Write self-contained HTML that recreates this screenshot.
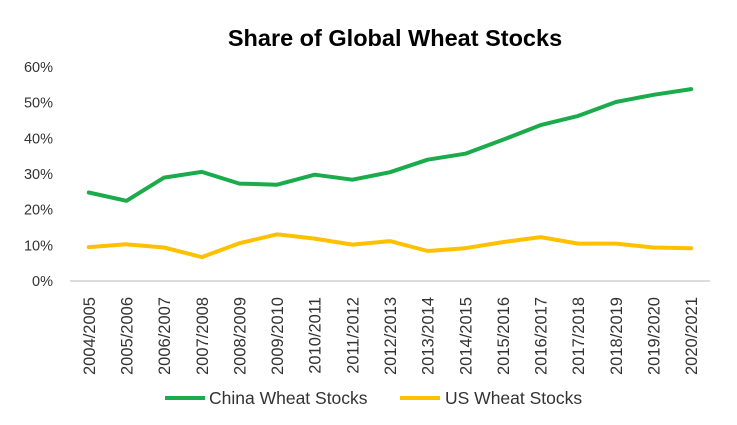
<!DOCTYPE html>
<html><head><meta charset="utf-8"><style>
body{margin:0;background:#fff;}
svg{display:block;font-family:"Liberation Sans",sans-serif;}
</style></head><body>
<svg id="chart" width="737" height="425">
<text x="395" y="46" text-anchor="middle" font-size="23.5" font-weight="bold" fill="#000">Share of Global Wheat Stocks</text>
<g id="yaxis"></g><g id="xaxis"></g><g id="series"></g>
<g>
<line x1="165" y1="398" x2="205" y2="398" stroke="#1aab4b" stroke-width="4"/>
<text x="209" y="404" font-size="17.5" fill="#333">China Wheat Stocks</text>
<line x1="400" y1="398" x2="440" y2="398" stroke="#ffc000" stroke-width="4"/>
<text x="445" y="404" font-size="17.5" fill="#333">US Wheat Stocks</text>
</g>
</svg>
<script>
const categories=["2004/2005","2005/2006","2006/2007","2007/2008","2008/2009","2009/2010","2010/2011","2011/2012","2012/2013","2013/2014","2014/2015","2015/2016","2016/2017","2017/2018","2018/2019","2019/2020","2020/2021"];
const chinaValues=[24.8,22.5,29,30.6,27.3,27,29.8,28.4,30.5,34,35.7,39.6,43.7,46.3,50.2,52.2,53.8];
const usValues=[9.5,10.3,9.4,6.7,10.6,13.1,11.9,10.2,11.2,8.4,9.2,10.9,12.3,10.5,10.5,9.4,9.2];
const yTicks=[0,10,20,30,40,50,60];
const NS="http://www.w3.org/2000/svg";
const x0=70,x1=710,y0=281,y1=67;
const step=(x1-x0)/categories.length;
function xPos(i){return x0+step*(i+0.5);}
function yPos(v){return y0-(v/60)*(y0-y1);}
function mk(t,a,p){const e=document.createElementNS(NS,t);for(const k in a)e.setAttribute(k,a[k]);p.appendChild(e);return e;}
const ya=document.getElementById('yaxis');
yTicks.forEach(v=>{const t=mk('text',{x:53,y:yPos(v)+5,'text-anchor':'end','font-size':'14.5',fill:'#333'},ya);t.textContent=v+'%';

});
const xa=document.getElementById('xaxis');
const ax=mk('line',{x1:x0,y1:y0,x2:x1,y2:y0,stroke:'#d0d0d0','stroke-width':1.5},xa);


categories.forEach((c,i)=>{const x=xPos(i)+6;const t=mk('text',{x:x,y:297,transform:`rotate(-90 ${x} 297)`,'text-anchor':'end','font-size':'16.5',fill:'#333'},xa);t.textContent=c;

});
const sg=document.getElementById('series');
function line(vals,color,name){const d=vals.map((v,i)=>(i?'L':'M')+xPos(i).toFixed(1)+' '+yPos(v).toFixed(1)).join(' ');
const p=mk('path',{d:d,fill:'none',stroke:color,'stroke-width':4,'stroke-linejoin':'round','stroke-linecap':'round'},sg);

}
line(usValues,'#ffc000','us-wheat-line');
line(chinaValues,'#1aab4b','china-wheat-line');
</script>
</body></html>
